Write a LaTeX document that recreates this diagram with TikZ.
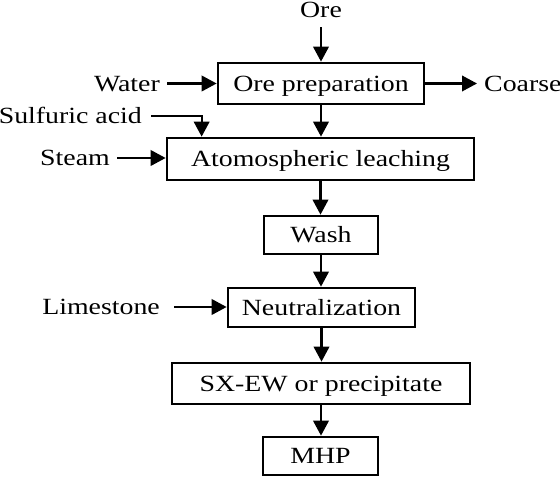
\documentclass[tikz,border=0pt]{standalone}
\usepackage{fontspec}
\setmainfont{Liberation Serif}[FakeStretch=1.2]
\usetikzlibrary{calc,arrows.meta}

\begin{document}
\begin{tikzpicture}[x=1pt,y=1pt,font=\fontsize{23.2}{28}\selectfont,
  box/.style={draw,line width=2.7pt,inner sep=0pt,text height=15.4pt,text depth=0pt},
  lbl/.style={inner sep=0pt,text height=15.4pt,text depth=0pt},
  arr/.style={line width=2.2pt,-{Triangle[length=15pt,width=15.5pt]}}]
              \useasboundingbox (0,0) rectangle (560,478);
              \node[box,minimum width=206pt,minimum height=41pt](prep)at(321,394.5){Ore preparation};
              \node[box,minimum width=307pt,minimum height=42pt](leach)at(320.5,319){Atomospheric leaching};
              \node[box,minimum width=114pt,minimum height=38pt](wash)at(321,243){Wash};
              \node[box,minimum width=187pt,minimum height=39pt](neut)at(321.5,170.5){Neutralization};
              \node[box,minimum width=298pt,minimum height=41pt](sx)at(321,94.5){SX-EW or precipitate};
              \node[box,minimum width=115pt,minimum height=38pt](mhp)at(320.5,22){MHP};
              \node[lbl](ore)at(321,468.5){Ore};
              \node[lbl,anchor=east](water)at(160,394.5){Water};
              \node[lbl,anchor=west](coarse)at(484,394.5){Coarse};
              \node[lbl,anchor=east](sulf)at(142,362){Sulfuric acid};
              \node[lbl,anchor=east](steam)at(110,320){Steam};
              \node[lbl,anchor=east](lime)at(160,171){Limestone};
              \draw[arr,shorten <=10pt] (ore) -- (prep.north);
              \draw[arr,shorten <=7pt] (water.east) -- (water.east -| prep.west);
              \draw[arr,shorten >=7pt] (prep.east) -- (coarse.west);
              \draw[arr,shorten <=9pt] (sulf.east) -| ([xshift=36pt]leach.north west);
              \draw[arr,shorten <=7pt] (steam.east) -- (steam.east -| leach.west);
              \draw[arr,shorten <=14pt] (lime.east) -- (lime.east -| neut.west);
              \draw[arr] (prep.south) -- (prep.south |- leach.north);
              \draw[arr] (leach.south) -- (leach.south |- wash.north);
              \draw[arr] (wash.south) -- (wash.south |- neut.north);
              \draw[arr] (neut.south) -- (neut.south |- sx.north);
              \draw[arr] (sx.south) -- (sx.south |- mhp.north);
            \end{tikzpicture}
\end{document}
